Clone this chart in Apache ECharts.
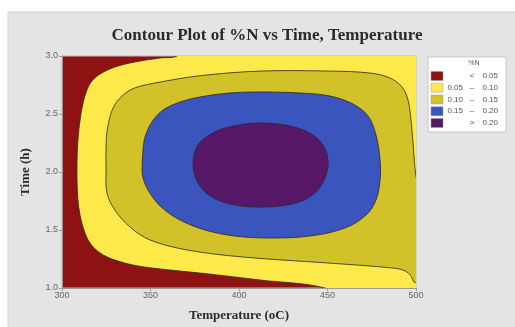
<!DOCTYPE html>
<html>
<head>
<meta charset="utf-8">
<script src="https://cdn.jsdelivr.net/npm/echarts@6/dist/echarts.min.js"></script>
<style>
  html, body { margin: 0; padding: 0; background: #ffffff; }
  #chart { width: 515px; height: 327px; }
</style>
</head>
<body>
<div id="chart"></div>
<script>
// ---- Data: [Temperature (oC), Time (h)] ----
// Boundary of the 0.05 level (region above 0.05); points beyond the frame are clipped.
var contour05 = [[370,3.1],[365,3.0],[355.4,2.983],[341.2,2.948],[329.9,2.905],[321.5,2.845],[316.9,2.784],
  [314.1,2.707],[311.9,2.595],[310.2,2.448],[309.0,2.276],[308.5,2.103],[308.5,1.931],[309.0,1.759],[310.2,1.629],
  [312.4,1.5],[315.8,1.388],[321.5,1.302],[329.9,1.241],[342.9,1.19],[361,1.155],[378,1.129],[411.9,1.069],
  [448.6,1.0],[455,0.9],[510,0.9],[510,3.1]];
// Boundary of the 0.10 level
var contour10 = [[324.9,2.02],[325.0,2.28],[326.0,2.40],[328.8,2.55],[333.9,2.655],[341.2,2.725],[355.4,2.775],
  [378,2.83],[412,2.87],[451,2.87],[474,2.853],[485.3,2.81],[492.1,2.733],[495.5,2.62],[497.5,2.4],[498.8,2.15],
  [499.8,1.98],[502,1.8],[502,1.05],[498.9,1.052],[497.2,1.103],[493.8,1.147],[487,1.172],[449.7,1.216],[402.3,1.267],
  [370.6,1.328],[349.7,1.414],[338.4,1.526],[329.9,1.672],[325.4,1.819]];
// Boundary of the 0.15 level
var contour15 = [[345.2,2.017],[345.8,2.19],[346.9,2.302],[350.8,2.431],[357.1,2.534],[366.7,2.603],[378,2.647],
  [394.9,2.681],[411.9,2.69],[434.5,2.681],[451.4,2.655],[464.4,2.586],[472.9,2.483],[477.4,2.319],[479.7,2.103],
  [479.7,1.931],[477.4,1.759],[471.8,1.629],[459.9,1.517],[440.1,1.448],[417.5,1.431],[397.7,1.448],[380.8,1.5],
  [366.7,1.586],[355.4,1.707],[348.6,1.845],[345.8,1.948]];
// Boundary of the 0.20 level
var contour20 = [[374,2.06],[375.7,2.207],[381.4,2.302],[390.4,2.371],[403.4,2.414],[414.7,2.422],[428.8,2.397],
  [440.1,2.336],[447.5,2.233],[450.3,2.103],[449.2,1.974],[444.6,1.845],[435.6,1.75],[423.2,1.707],[409,1.698],
  [394.9,1.724],[383.6,1.793],[376.8,1.905],[374.6,2.0]];

var xTicks = [300, 350, 400, 450, 500];
var yTicks = [1.0, 1.5, 2.0, 2.5, 3.0];

var legendTitle = '%N';
var legendSign = ['<', '\u2013', '\u2013', '\u2013', '>'];
var legendLow  = ['', '0.05', '0.10', '0.15', ''];
var legendHigh = ['0.05', '0.10', '0.15', '0.20', '0.20'];
var levelColors = ['#8e1212', '#fde94a', '#d2c128', '#3b55be', '#571769'];

// ---- Chart ----
var chart = echarts.init(document.getElementById('chart'), null, { renderer: 'canvas' });

function regionSeries(points, color) {
  return {
    type: 'custom',
    coordinateSystem: 'cartesian2d',
    clip: true,
    silent: true,
    data: [[xTicks[0], yTicks[0]]],
    renderItem: function (params, api) {
      return {
        type: 'polygon',
        shape: { points: points.map(function (p) { return api.coord(p); }), smooth: 0.35 },
        style: { fill: color, stroke: '#2a2a2a', lineWidth: 0.8 }
      };
    }
  };
}

var legendEls = [
  { type: 'rect', shape: { x: 428, y: 57, width: 78, height: 75 }, style: { fill: '#ffffff', stroke: '#c8c8c8', lineWidth: 1 } },
  { type: 'text', x: 474, y: 63, style: { text: legendTitle, font: '7px "Liberation Sans"', fill: '#555', align: 'center', verticalAlign: 'middle' } }
];
legendSign.forEach(function (s, i) {
  var cy = 76 + i * 11.75;
  legendEls.push({ type: 'rect', shape: { x: 431, y: cy - 4.5, width: 12, height: 9 }, style: { fill: levelColors[i], stroke: '#9a9a9a', lineWidth: 0.5 } });
  legendEls.push({ type: 'text', x: 463, y: cy, style: { text: legendLow[i], font: '8px "Liberation Sans"', fill: '#555', align: 'right', verticalAlign: 'middle' } });
  legendEls.push({ type: 'text', x: 472, y: cy, style: { text: s, font: '8px "Liberation Sans"', fill: '#555', align: 'center', verticalAlign: 'middle' } });
  legendEls.push({ type: 'text', x: 498, y: cy, style: { text: legendHigh[i], font: '8px "Liberation Sans"', fill: '#555', align: 'right', verticalAlign: 'middle' } });
});

var option = {
  backgroundColor: 'transparent',
  animation: false,
  title: {
    text: 'Contour Plot of %N vs Time, Temperature',
    left: 262, top: 22, textAlign: 'center',
    textStyle: { fontFamily: 'Liberation Serif', fontWeight: 'bold', fontSize: 17, color: '#2b2b2b' }
  },
  graphic: [
    { type: 'rect', z: -10, shape: { x: 8, y: 12, width: 510, height: 320 }, style: { fill: '#e4e4e4', stroke: '#d2d2d2', lineWidth: 1 } },
    { type: 'group', z: 10, children: legendEls }
  ],
  grid: {
    left: 62, right: 99, top: 56, bottom: 39,
    show: true, backgroundColor: levelColors[0], borderColor: '#bdbdbd', borderWidth: 1
  },
  xAxis: {
    type: 'value', min: xTicks[0], max: xTicks[xTicks.length - 1], interval: 50,
    name: 'Temperature (oC)', nameLocation: 'middle', nameGap: 21,
    nameTextStyle: { fontFamily: 'Liberation Serif', fontWeight: 'bold', fontSize: 13, color: '#2b2b2b' },
    axisLine: { show: true, lineStyle: { color: '#9a9a9a', width: 1 } },
    axisTick: { show: true, length: 3, lineStyle: { color: '#9a9a9a' } },
    axisLabel: { fontSize: 9, color: '#666', margin: 3, fontFamily: 'Liberation Sans' },
    splitLine: { show: false }
  },
  yAxis: {
    type: 'value', min: yTicks[0], max: yTicks[yTicks.length - 1], interval: 0.5,
    name: 'Time (h)', nameLocation: 'middle', nameGap: 30,
    nameTextStyle: { fontFamily: 'Liberation Serif', fontWeight: 'bold', fontSize: 13, color: '#2b2b2b' },
    axisLine: { show: true, lineStyle: { color: '#9a9a9a', width: 1 } },
    axisTick: { show: true, length: 3, lineStyle: { color: '#9a9a9a' } },
    axisLabel: { fontSize: 9, color: '#666', margin: 4, fontFamily: 'Liberation Sans', formatter: function (v) { return v.toFixed(1); } },
    splitLine: { show: false }
  },
  series: [
    regionSeries(contour05, levelColors[1]),
    regionSeries(contour10, levelColors[2]),
    regionSeries(contour15, levelColors[3]),
    regionSeries(contour20, levelColors[4])
  ]
};
chart.setOption(option);
</script>
</body>
</html>
